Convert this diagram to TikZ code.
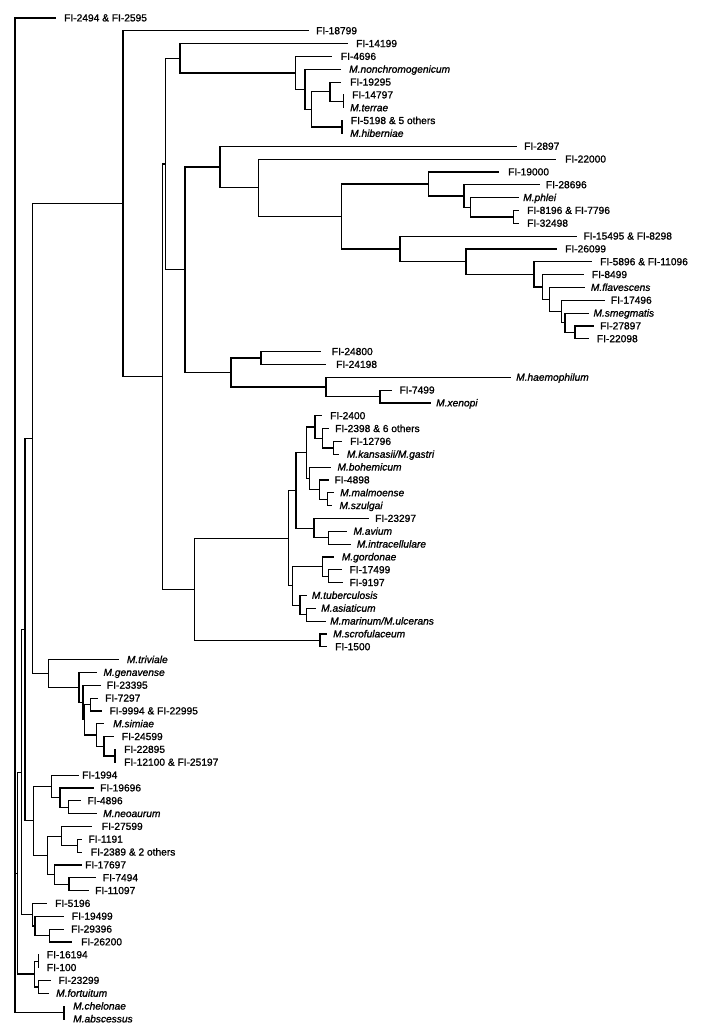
\documentclass[tikz,border=0pt]{standalone}
\usepackage{fontspec}
\setmainfont{Liberation Sans}[FakeBold=1.2]
\usetikzlibrary{calc}
\tikzset{
  br/.style={line width=1.2pt, line cap=rect},
  lab/.style={anchor=base west, inner sep=0pt, yshift=-3.4pt, font=\fontsize{10.2}{12}\selectfont},
}
\newcommand\tleaf[5]{%
  \coordinate (#1) at (#3, {18+(#2-1)*12.833});
  \node[lab] (#1t) at (#4, {18+(#2-1)*12.833}) {#5};}
\newcommand\tinode[4]{%
  \path let \p1=(#3), \p2=(#4) in coordinate (#1) at (#2pt, {0.5*\y1+0.5*\y2});
  \draw[br] (#3) -| (#1) |- (#4);}
\begin{document}
\begin{tikzpicture}[x=1pt, y=-1pt]
\useasboundingbox (0,0) rectangle (702,1034);
\fill[white] (0,0) rectangle (702,1034);
% leaves: name, index, tip x, label x, text
\tleaf{l1}{1}{55}{64}{FI-2494 \& FI-2595}
\tleaf{l2}{2}{308}{316}{FI-18799}
\tleaf{l3}{3}{347.7}{356}{FI-14199}
\tleaf{l4}{4}{331.7}{340.7}{FI-4696}
\tleaf{l5}{5}{340.7}{349}{\textit{M.nonchromogenicum}}
\tleaf{l6}{6}{340}{350}{FI-19295}
\tleaf{l7}{7}{343.5}{352}{FI-14797}
\tleaf{l8}{8}{343.5}{350}{\textit{M.terrae}}
\tleaf{l9}{9}{342}{350.7}{FI-5198 \& 5 others}
\tleaf{l10}{10}{342}{350}{\textit{M.hiberniae}}
\tleaf{l11}{11}{516}{524}{FI-2897}
\tleaf{l12}{12}{555}{565}{FI-22000}
\tleaf{l13}{13}{498.3}{508}{FI-19000}
\tleaf{l14}{14}{539.3}{545.7}{FI-28696}
\tleaf{l15}{15}{518.3}{523}{\textit{M.phlei}}
\tleaf{l16}{16}{518.3}{527}{FI-8196 \& FI-7796}
\tleaf{l17}{17}{518.3}{527}{FI-32498}
\tleaf{l18}{18}{576.7}{583.3}{FI-15495 \& FI-8298}
\tleaf{l19}{19}{556.7}{565}{FI-26099}
\tleaf{l20}{20}{591.7}{600}{FI-5896 \& FI-11096}
\tleaf{l21}{21}{583.3}{591.7}{FI-8499}
\tleaf{l22}{22}{584}{590.7}{\textit{M.flavescens}}
\tleaf{l23}{23}{604}{610.7}{FI-17496}
\tleaf{l24}{24}{588.3}{593.3}{\textit{M.smegmatis}}
\tleaf{l25}{25}{593.3}{600}{FI-27897}
\tleaf{l26}{26}{588.3}{596.7}{FI-22098}
\tleaf{l27}{27}{320}{331.7}{FI-24800}
\tleaf{l28}{28}{325}{336}{FI-24198}
\tleaf{l29}{29}{510}{516}{\textit{M.haemophilum}}
\tleaf{l30}{30}{391.7}{399.3}{FI-7499}
\tleaf{l31}{31}{430}{436}{\textit{M.xenopi}}
\tleaf{l32}{32}{321.7}{330}{FI-2400}
\tleaf{l33}{33}{328.3}{335}{FI-2398 \& 6 others}
\tleaf{l34}{34}{341.7}{350}{FI-12796}
\tleaf{l35}{35}{338.3}{346.7}{\textit{M.kansasii/M.gastri}}
\tleaf{l36}{36}{330}{337.3}{\textit{M.bohemicum}}
\tleaf{l37}{37}{328.3}{334.3}{FI-4898}
\tleaf{l38}{38}{333.3}{340}{\textit{M.malmoense}}
\tleaf{l39}{39}{331.7}{339.3}{\textit{M.szulgai}}
\tleaf{l40}{40}{368.3}{375}{FI-23297}
\tleaf{l41}{41}{346.7}{353.3}{\textit{M.avium}}
\tleaf{l42}{42}{350}{356.7}{\textit{M.intracellulare}}
\tleaf{l43}{43}{333.3}{341.7}{\textit{M.gordonae}}
\tleaf{l44}{44}{341.7}{349.3}{FI-17499}
\tleaf{l45}{45}{342.7}{349.3}{FI-9197}
\tleaf{l46}{46}{306.7}{311.7}{\textit{M.tuberculosis}}
\tleaf{l47}{47}{315}{321}{\textit{M.asiaticum}}
\tleaf{l48}{48}{325}{330}{\textit{M.marinum/M.ulcerans}}
\tleaf{l49}{49}{326}{333}{\textit{M.scrofulaceum}}
\tleaf{l50}{50}{326}{335}{FI-1500}
\tleaf{l51}{51}{118.3}{126.7}{\textit{M.triviale}}
\tleaf{l52}{52}{96.7}{103.3}{\textit{M.genavense}}
\tleaf{l53}{53}{100}{106.7}{FI-23395}
\tleaf{l54}{54}{97.3}{105}{FI-7297}
\tleaf{l55}{55}{101.7}{109.3}{FI-9994 \& FI-22995}
\tleaf{l56}{56}{103.3}{113}{\textit{M.simiae}}
\tleaf{l57}{57}{113.3}{121.7}{FI-24599}
\tleaf{l58}{58}{115}{124}{FI-22895}
\tleaf{l59}{59}{115}{124}{FI-12100 \& FI-25197}
\tleaf{l60}{60}{78.3}{82}{FI-1994}
\tleaf{l61}{61}{93.3}{100}{FI-19696}
\tleaf{l62}{62}{80}{87.3}{FI-4896}
\tleaf{l63}{63}{96.7}{103}{\textit{M.neoaurum}}
\tleaf{l64}{64}{91.7}{101.7}{FI-27599}
\tleaf{l65}{65}{81.7}{88.3}{FI-1191}
\tleaf{l66}{66}{81.7}{90.7}{FI-2389 \& 2 others}
\tleaf{l67}{67}{81.7}{85}{FI-17697}
\tleaf{l68}{68}{95}{102.7}{FI-7494}
\tleaf{l69}{69}{88.3}{95}{FI-11097}
\tleaf{l70}{70}{46.7}{55}{FI-5196}
\tleaf{l71}{71}{63.3}{71.7}{FI-19499}
\tleaf{l72}{72}{63.3}{71}{FI-29396}
\tleaf{l73}{73}{71.7}{81}{FI-26200}
\tleaf{l74}{74}{38.3}{46.7}{FI-16194}
\tleaf{l75}{75}{38.3}{46.7}{FI-100}
\tleaf{l76}{76}{50}{58.3}{FI-23299}
\tleaf{l77}{77}{48.3}{56}{\textit{M.fortuitum}}
\tleaf{l78}{78}{64}{73}{\textit{M.chelonae}}
\tleaf{l79}{79}{64}{73}{\textit{M.abscessus}}
% internal nodes (children before parents)
\tinode{nterr}{343.5}{l7}{l8}
\tinode{nA330}{330}{l6}{nterr}
\tinode{nhib}{342}{l9}{l10}
\tinode{nA311}{311.7}{nA330}{nhib}
\tinode{nA305}{305}{l5}{nA311}
\tinode{nA296}{295.7}{l4}{nA305}
\tinode{nG1}{180}{l3}{nA296}
\tinode{n8196}{513.3}{l16}{l17}
\tinode{nphlei}{470.7}{l15}{n8196}
\tinode{n28696}{464}{l14}{nphlei}
\tinode{nL}{428.3}{l13}{n28696}
\tinode{nU}{575}{l25}{l26}
\tinode{nT}{565}{l24}{nU}
\tinode{nS}{561.7}{l23}{nT}
\tinode{nR}{549.3}{l22}{nS}
\tinode{nQ}{542.7}{l21}{nR}
\tinode{nP}{534}{l20}{nQ}
\tinode{nO}{466}{l19}{nP}
\tinode{nN}{400}{l18}{nO}
\tinode{nK}{341.7}{nL}{nN}
\tinode{nJ}{258.3}{l12}{nK}
\tinode{nH}{220}{l11}{nJ}
\tinode{nV}{261}{l27}{l28}
\tinode{nX2}{380}{l30}{l31}
\tinode{nW}{326}{l29}{nX2}
\tinode{nI}{231}{nV}{nW}
\tinode{nF}{185}{nH}{nI}
\tinode{nD}{165.3}{nG1}{nF}
\tinode{n12796}{333.3}{l34}{l35}
\tinode{n2398}{322.7}{l33}{n12796}
\tinode{n2400}{315}{l32}{n2398}
\tinode{nmalm}{327.7}{l38}{l39}
\tinode{n4898}{319.3}{l37}{nmalm}
\tinode{nbohem}{309.3}{l36}{n4898}
\tinode{nK1}{306.7}{n2400}{nbohem}
\tinode{navium}{328.3}{l41}{l42}
\tinode{n23297}{314}{l40}{navium}
\tinode{nZ1}{296}{nK1}{n23297}
\tinode{n17499}{328.3}{l44}{l45}
\tinode{ngord}{322.7}{l43}{n17499}
\tinode{nasiat}{306.7}{l47}{l48}
\tinode{ntb}{300}{l46}{nasiat}
\tinode{nZ2}{292.7}{ngord}{ntb}
\tinode{nY2}{288.3}{nZ1}{nZ2}
\tinode{nscrof}{320}{l49}{l50}
\tinode{nE}{194.3}{nY2}{nscrof}
\tinode{nC}{162.3}{nD}{nE}
\tinode{nB}{123}{l2}{nC}
\tinode{n22895}{115}{l58}{l59}
\tinode{n24599}{104}{l57}{n22895}
\tinode{nsimiae}{96.7}{l56}{n24599}
\tinode{n7297}{90.7}{l54}{l55}
\tinode{n7297s}{84.7}{n7297}{nsimiae}
\tinode{n23395}{83}{l53}{n7297s}
\tinode{ngenav}{79}{l52}{n23395}
\tinode{ntriv}{48.3}{l51}{ngenav}
\tinode{nN5}{32.3}{nB}{ntriv}
\tinode{n4896}{68.3}{l62}{l63}
\tinode{n19696}{60}{l61}{n4896}
\tinode{n1994}{51.7}{l60}{n19696}
\tinode{n1191}{77.3}{l65}{l66}
\tinode{n27599}{61.7}{l64}{n1191}
\tinode{n7494}{69}{l68}{l69}
\tinode{n17697}{54.3}{l67}{n7494}
\tinode{n47}{47.7}{n27599}{n17697}
\tinode{nAA}{33.3}{n1994}{n47}
\tinode{nY}{25}{nN5}{nAA}
\tinode{n29396}{49.3}{l72}{l73}
\tinode{n19499}{35}{l71}{n29396}
\tinode{n5196}{32.3}{l70}{n19499}
\tinode{nX}{21.7}{nY}{n5196}
\tinode{n16194}{38.3}{l74}{l75}
\tinode{n23299}{38.3}{l76}{l77}
\tinode{nfort}{34.3}{n16194}{n23299}
\tinode{n17}{17.3}{nX}{nfort}
\tinode{nchel}{64}{l78}{l79}
% root (trifurcation)
\tinode{root}{15}{l1}{nchel}
\draw[br] (root) |- (n17);
\end{tikzpicture}
\end{document}
